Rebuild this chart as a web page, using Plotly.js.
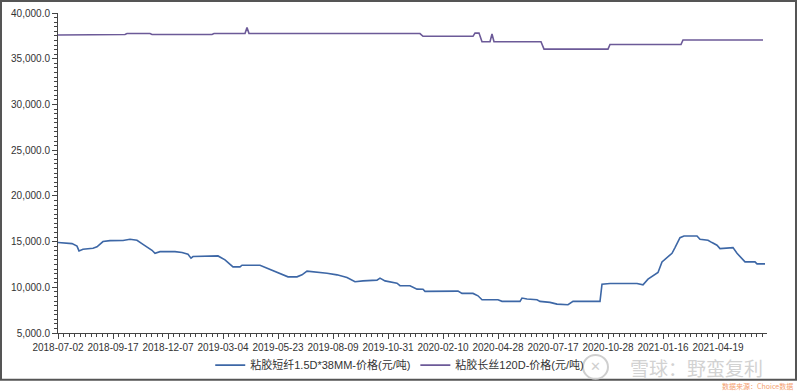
<!DOCTYPE html>
<html>
<head>
<meta charset="utf-8">
<script src="https://cdn.plot.ly/plotly-3.0.1.min.js"></script>
<style>
html,body{margin:0;padding:0;background:#fff;}
#chart{width:800px;height:391px;}
</style>
</head>
<body>
<div id="chart"></div>
<script>
// Tick labels (category dates, every 55 trading days)
const tickLabels = ["2018-07-02","2018-09-17","2018-12-07","2019-03-04","2019-05-23","2019-08-09","2019-10-31","2020-02-10","2020-04-28","2020-07-17","2020-10-28","2021-01-16","2021-04-19"];
const tickIndex = [0,55,110,165,220,275,330,385,440,495,550,605,660];

// Series 1: 粘胶短纤1.5D*38MM-价格(元/吨) — trading-day index and price
const shortIdx = [0,14,19,21,25,35,39,45,52,65,72,79,85,94,97,102,117,124,130,133,135,149,160,167,175,182,184,202,210,219,230,239,244,249,259,269,279,289,297,305,319,322,327,333,339,342,352,359,365,367,380,400,404,415,420,424,440,444,462,464,469,479,482,492,499,510,515,542,544,552,579,585,590,595,600,604,609,614,617,622,626,639,642,650,654,659,662,675,679,687,697,699,707];
const shortVal = [14900,14780,14500,13980,14160,14270,14420,15000,15100,15120,15250,15140,14700,14050,13720,13900,13900,13800,13610,13180,13360,13430,13430,13000,12230,12230,12410,12410,12050,11620,11140,11140,11360,11760,11690,11540,11360,11070,10600,10700,10780,11000,10700,10600,10450,10180,10160,9800,9780,9550,9580,9580,9330,9330,9070,8630,8630,8460,8460,8820,8710,8630,8460,8350,8160,8090,8460,8460,10340,10420,10420,10270,10890,11250,11620,12780,13250,13720,14340,15430,15610,15610,15250,15140,14890,14600,14230,14340,13720,12780,12780,12560,12560];

// Series 2: 粘胶长丝120D-价格(元/吨)
const longIdx = [0,44,46,67,69,92,94,154,156,187,189,191,362,365,415,417,421,424,432,434,436,483,486,550,552,623,625,705];
const longVal = [37600,37600,37650,37650,37750,37750,37650,37650,37750,37750,38400,37750,37750,37450,37450,37800,37800,36850,36850,37700,36850,36850,36050,36050,36550,36550,37050,37050];

const seriesNames = ["粘胶短纤1.5D*38MM-价格(元/吨)","粘胶长丝120D-价格(元/吨)"];

const font = "Arial, 'Liberation Sans', 'Noto Sans CJK SC', sans-serif";

const traces = [
  {x: shortIdx, y: shortVal, type: "scatter", mode: "lines", name: seriesNames[0],
   line: {color: "#3d67a6", width: 1.6, shape: "linear"}},
  {x: longIdx, y: longVal, type: "scatter", mode: "lines", name: seriesNames[1],
   line: {color: "#6c5a98", width: 1.6, shape: "linear"}}
];

const layout = {
  width: 800, height: 391,
  margin: {l: 58, r: 33, t: 13, b: 57},
  paper_bgcolor: "#fff", plot_bgcolor: "#fff",
  showlegend: true,
  legend: {orientation: "h", x: 0.482, xanchor: "center", y: -0.097, yanchor: "middle",
    font: {family: font, size: 11, color: "#333"}, bgcolor: "rgba(0,0,0,0)"},
  xaxis: {
    range: [0, 709], showgrid: false, zeroline: false, automargin: false,
    showline: true, linecolor: "#444", linewidth: 1,
    tickmode: "array", tickvals: tickIndex, ticktext: tickLabels, tickangle: 0,
    ticks: "outside", ticklen: 5, tickcolor: "#444",
    tickfont: {family: font, size: 10, color: "#333"},
    minor: {dtick: 5.5, tick0: 0, ticks: "outside", ticklen: 3, tickcolor: "#444", showgrid: false}
  },
  yaxis: {
    range: [5000, 40000], showgrid: false, zeroline: false, automargin: false,
    showline: true, linecolor: "#444", linewidth: 1,
    tickmode: "linear", tick0: 5000, dtick: 5000, tickformat: ",.1f",
    ticks: "outside", ticklen: 5, tickcolor: "#444",
    tickfont: {family: font, size: 10, color: "#333"},
    minor: {dtick: 500, ticks: "outside", ticklen: 3, tickcolor: "#444", showgrid: false}
  },
  shapes: [
    {type: "rect", xref: "paper", yref: "paper", x0: -0.0804, x1: 1.0409, y0: -0.1464, y1: 1.0374,
     line: {color: "#555", width: 2}, fillcolor: "rgba(0,0,0,0)"},
    {type: "circle", xref: "paper", yref: "paper", x0: 0.7405, x1: 0.7757, y0: -0.1433, y1: -0.0685,
     line: {color: "#cfcfcf", width: 2}, fillcolor: "rgba(0,0,0,0)"}
  ],
  annotations: [
    {xref: "paper", yref: "paper", x: 0.9, y: -0.109, xanchor: "center", yanchor: "middle",
     text: "雪球：野蛮复利", showarrow: false,
     font: {family: "'Noto Sans CJK SC', sans-serif", size: 19, color: "#d2d2d2"}},
    {xref: "paper", yref: "paper", x: 0.758, y: -0.106, xanchor: "center", yanchor: "middle",
     text: "✕", showarrow: false,
     font: {family: "'DejaVu Sans', sans-serif", size: 13, color: "#cfcfcf"}},
    {xref: "paper", yref: "paper", x: 1.0395, y: -0.166, xanchor: "right", yanchor: "middle",
     text: "数据来源：Choice数据", showarrow: false,
     font: {family: "'Noto Sans CJK SC', sans-serif", size: 7, color: "#f4a070"}}
  ]
};

Plotly.newPlot("chart", traces, layout, {staticPlot: true, displayModeBar: false});
</script>
</body>
</html>
